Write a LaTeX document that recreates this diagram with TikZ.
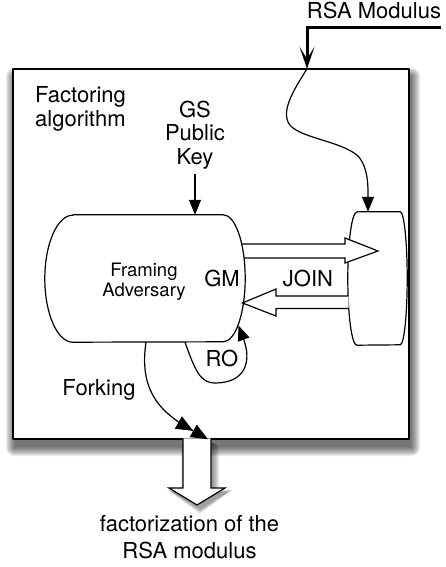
\documentclass[tikz,border=0pt]{standalone}
\usepackage{fontspec}
\setmainfont{TeX Gyre Heros}
\usetikzlibrary{arrows.meta,calc}
\begin{document}
\begin{tikzpicture}[x=1pt,y=-1pt,line join=round,
  lbl/.style={font=\fontsize{22}{24.4}\selectfont,inner sep=0pt,anchor=base},
  outl/.style={draw,line width=1.2pt,fill=white},
  hollow/.style={draw,line width=1.2pt,fill=white,line join=miter},
  arr/.style={line width=1.2pt,-{Triangle[length=15pt,width=12pt]}},
  arrtwo/.style={line width=1.2pt,-{Triangle[length=17pt,width=14pt]Triangle[length=17pt,width=14pt]}},
  ghost/.style={inner sep=0pt,draw=none},
  shadowstep/.style={fill=black,opacity=0.075}]
\useasboundingbox (0,0) rectangle (445,567);
% main box geometry
\node[ghost,minimum width=396pt,minimum height=370pt] (box) at (211,254) {};
% soft drop shadow of the box
\foreach \e in {9,8,...,0}{
  \fill[shadowstep,rounded corners=\e pt] ($(box.north west)+(2-\e,8-\e)$) rectangle ($(box.south east)+(2+\e,8+\e)$);
}
% soft drop shadow of the output arrow
\foreach \e in {5,4,...,0}{
  \fill[shadowstep,rounded corners=\e pt] ($(box.south -| 183,0)+(3-\e,4)$) rectangle ($(211,488)+(3+\e,4)$);
  \fill[shadowstep] ($(169,488)+(3-\e,4-\e/2)$) -- ($(197,505)+(3,4+\e)$) -- ($(225,488)+(3+\e,4-\e/2)$) -- cycle;
}
\draw[line width=1.5pt,fill=white] (box.north west) rectangle (box.south east);
% texts
\node[lbl,align=left,anchor=base west] (fact) at (35,126.7) {Factoring\\algorithm};
\node[lbl,align=center,font=\fontsize{22}{23.5}\selectfont] (gs) at (195,164) {GS\\Public\\Key};
\node[lbl] (rsa) at (374,18.3) {RSA Modulus};
% right shape
\node[ghost,minimum width=59pt,minimum height=133pt] (rs) at (377.5,278.5) {};
\draw[outl] ([xshift=9pt]rs.north west) -- ([xshift=-7pt]rs.north east)
  arc[start angle=90,end angle=-90,x radius=7pt,y radius=66.5pt]
  -- ([xshift=9pt]rs.south west)
  arc[start angle=270,end angle=90,x radius=9pt,y radius=66.5pt] -- cycle;
% right hollow arrow (GM -> right shape)
\draw[hollow] (235,244) -- (345,244) -- (345,238) -- (378,251) -- (345,263) -- (345,258) -- (235,258);
% framing adversary shape
\node[ghost,minimum width=200pt,minimum height=127pt] (fa) at (145,278.5) {};
\draw[outl] ([xshift=28pt]fa.north west) -- ([xshift=-22pt]fa.north east)
  arc[start angle=90,end angle=-90,x radius=22pt,y radius=63.5pt]
  -- ([xshift=28pt]fa.south west)
  arc[start angle=270,end angle=90,x radius=28pt,y radius=63.5pt] -- cycle;
% left hollow arrow (JOIN)
\draw[hollow] (348.6,296) -- (276,296) -- (276,289) -- (242.5,303) -- (276,316) -- (276,308.5) -- (348.6,308.5);
\node[font=\fontsize{18.5}{20}\selectfont,align=center,anchor=base,inner sep=0pt] (fatext) at (144,296.7) {Framing\\Adversary};
\node[lbl] (gm) at (222,286) {GM};
\node[lbl] (join) at (308,286) {JOIN};
\node[lbl] (ro) at (222,366.7) {RO};
\node[lbl] (fork) at (99,395) {Forking};
\node[lbl,align=center,font=\fontsize{22}{26.6}\selectfont] (res) at (189.5,558.3) {factorization of the\\RSA modulus};
% GS public key arrow
\draw[arr] ([yshift=-5pt]gs.south) -- (gs.south |- fa.north);
% RSA modulus input
\coordinate (rsastart) at (rsa.east |- 0,27.5);
\coordinate (boxin) at (box.north -| 307,0);
\coordinate (rsin) at (rs.north -| 368,0);
\draw[line width=3pt,line join=miter,-{Stealth[length=22pt,width=15pt,inset=12pt]}] (rsastart) -- (boxin |- rsastart) -- (boxin);
\draw[arr] (boxin) .. controls (295,88) and (282,108) .. (288,122)
  .. controls (295,138) and (340,140) .. (358,156)
  .. controls (369,168) and (368,190) .. (rsin);
% RO loop
\coordinate (rostart) at ([xshift=40pt]fa.south);
\coordinate (roend) at (238.5,325.5);
\draw[arr] (rostart) .. controls (195,370) and (200,383) .. (215,383)
  .. controls (245,383) and (252,362) .. (roend);
% bottom hollow arrow
\coordinate (outtop) at (box.south -| 197,0);
\draw[hollow] ([xshift=-14pt,yshift=0.8pt]outtop) -- (183,488) -- (169,488) -- (197,505) -- (225,488) -- (211,488) -- ([xshift=14pt,yshift=0.8pt]outtop);
% forking arrow
\coordinate (forkend) at (box.south -| 208,0);
\draw[arrtwo] ([xshift=1pt]fa.south) .. controls (138,395) and (165,415) .. (forkend);
\end{tikzpicture}
\end{document}
